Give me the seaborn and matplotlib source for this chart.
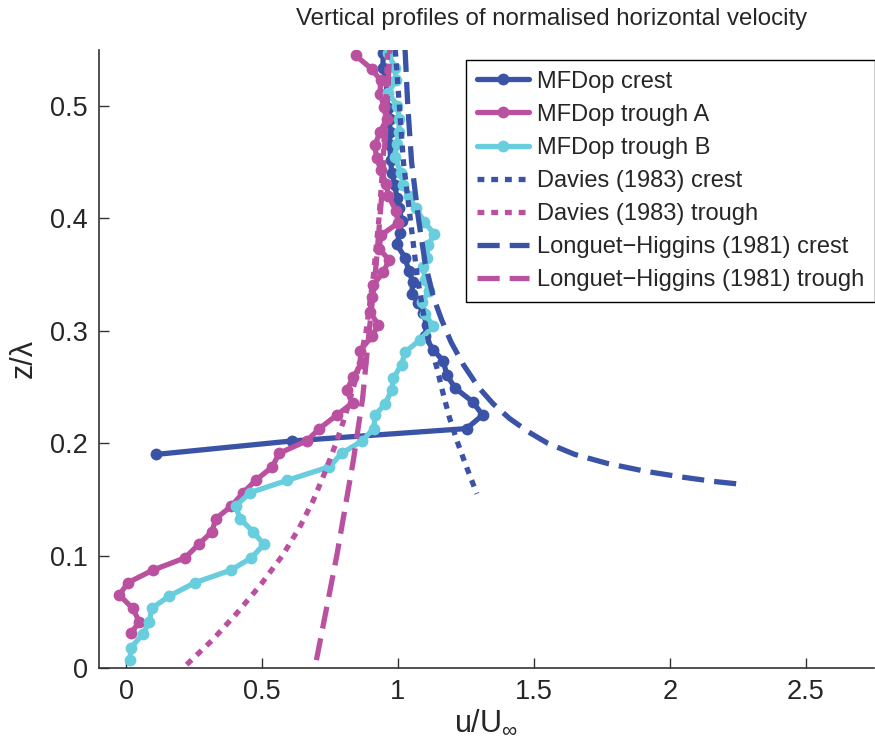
import matplotlib
matplotlib.use("Agg")
import matplotlib.pyplot as plt
import seaborn as sns
import pandas as pd

# ---- data ----
crest_z = [0.190, 0.202, 0.213, 0.225, 0.237, 0.249, 0.261, 0.273, 0.283, 0.295, 0.305,
           0.316, 0.325, 0.333, 0.343, 0.353, 0.365, 0.377, 0.387, 0.398, 0.409, 0.418,
           0.430, 0.440, 0.452, 0.465, 0.477, 0.488, 0.498, 0.510, 0.522, 0.534, 0.547]
crest_u = [0.11, 0.61, 1.252, 1.311, 1.274, 1.21, 1.179, 1.167, 1.13, 1.099, 1.105,
           1.093, 1.074, 1.05, 1.055, 1.04, 1.026, 0.995, 1.007, 1.013, 1.005, 0.995,
           0.989, 0.977, 0.973, 0.97, 0.97, 0.97, 0.964, 0.958, 0.958, 0.944, 0.946]

troughA_z = [0.031, 0.041, 0.053, 0.065, 0.076, 0.087, 0.098, 0.110, 0.121, 0.133, 0.144,
             0.156, 0.167, 0.179, 0.191, 0.202, 0.213, 0.225, 0.236, 0.247, 0.259, 0.271,
             0.282, 0.295, 0.305, 0.317, 0.330, 0.341, 0.352, 0.363, 0.373, 0.385, 0.396,
             0.407, 0.420, 0.431, 0.443, 0.454, 0.465, 0.477, 0.488, 0.499, 0.511, 0.523,
             0.533, 0.545]
troughA_u = [0.018, 0.049, 0.025, -0.025, 0.008, 0.098, 0.217, 0.267, 0.315, 0.331, 0.387,
             0.431, 0.477, 0.538, 0.5625, 0.664, 0.711, 0.775, 0.833, 0.811, 0.836, 0.866,
             0.860, 0.903, 0.928, 0.897, 0.903, 0.909, 0.946, 0.967, 0.931, 0.937, 1.001,
             0.992, 0.965, 0.956, 0.937, 0.921, 0.915, 0.934, 0.958, 0.949, 0.934, 0.936,
             0.903, 0.844]

troughB_z = [0.007, 0.018, 0.030, 0.041, 0.053, 0.064, 0.076, 0.087, 0.098, 0.110, 0.121,
             0.133, 0.144, 0.156, 0.167, 0.179, 0.191, 0.202, 0.213, 0.225, 0.235, 0.247,
             0.258, 0.270, 0.281, 0.292, 0.304, 0.315, 0.326, 0.335, 0.345, 0.357, 0.365,
             0.376, 0.386, 0.397, 0.409, 0.420, 0.430, 0.440, 0.455, 0.466, 0.477, 0.488,
             0.500, 0.512, 0.523, 0.534, 0.547]
troughB_u = [0.015, 0.018, 0.061, 0.086, 0.094, 0.159, 0.254, 0.385, 0.461, 0.507, 0.468,
             0.419, 0.403, 0.456, 0.593, 0.748, 0.793, 0.868, 0.910, 0.917, 0.952, 0.977,
             0.983, 1.013, 1.026, 1.081, 1.130, 1.099, 1.087, 1.115, 1.099, 1.093, 1.105,
             1.111, 1.133, 1.097, 1.065, 1.040, 1.019, 1.010, 0.989, 0.995, 1.004, 1.004,
             0.998, 0.964, 0.993, 0.989, 0.964]

davies_crest_z = [0.55, 0.50, 0.45, 0.40, 0.35, 0.32, 0.293, 0.268, 0.245, 0.222, 0.20,
                  0.18, 0.155]
davies_crest_u = [0.99, 1.005, 1.02, 1.045, 1.07, 1.09, 1.11, 1.142, 1.165, 1.19, 1.22,
                  1.25, 1.29]

davies_trough_z = [0.003, 0.025, 0.05, 0.075, 0.10, 0.125, 0.15, 0.175, 0.20, 0.225,
                   0.26, 0.30, 0.35, 0.40, 0.45, 0.50, 0.55]
davies_trough_u = [0.223, 0.318, 0.412, 0.498, 0.575, 0.638, 0.69, 0.733, 0.772, 0.807,
                   0.848, 0.883, 0.91, 0.93, 0.945, 0.955, 0.962]

lh_crest_z = [0.55, 0.50, 0.45, 0.40, 0.36, 0.33, 0.31, 0.29, 0.27, 0.25, 0.235, 0.222,
              0.21, 0.20, 0.19, 0.182, 0.175, 0.17, 0.166, 0.163]
lh_crest_u = [1.026, 1.036, 1.05, 1.075, 1.10, 1.13, 1.16, 1.195, 1.24, 1.295, 1.35, 1.41,
              1.48, 1.55, 1.65, 1.77, 1.91, 2.04, 2.16, 2.28]

lh_trough_z = [0.007, 0.10, 0.185, 0.24, 0.29, 0.36, 0.42, 0.48, 0.55]
lh_trough_u = [0.70, 0.775, 0.836, 0.87, 0.89, 0.92, 0.94, 0.955, 0.97]

labels = ["MFDop crest", "MFDop trough A", "MFDop trough B", "Davies (1983) crest",
          "Davies (1983) trough", "Longuet\u2212Higgins (1981) crest",
          "Longuet\u2212Higgins (1981) trough"]

# ---- style ----
sns.set_style("white")
plt.rcParams['font.family'] = ['Liberation Sans', 'DejaVu Sans']
plt.rcParams['mathtext.fontset'] = 'custom'
plt.rcParams['mathtext.rm'] = 'Liberation Sans'
plt.rcParams['mathtext.it'] = 'Liberation Sans'

BLUE = "#3B53A6"
MAG = "#BA50A0"
CYAN = "#68CDDC"

fig = plt.figure(figsize=(8.75, 7.48), dpi=100)
ax_left = 98.8 / 875
ax_w = 775.2 / 875
ax_bottom = (748 - 668) / 748
ax_h = 618.2 / 748
ax = fig.add_axes([ax_left, ax_bottom, ax_w, ax_h])

LW = 3.8
MS = 8.5

def draw(u, z, color, label, marker=None, ls="-"):
    df = pd.DataFrame({"u": u, "z": z})
    kw = dict(x="u", y="z", data=df, sort=False, estimator=None, color=color,
              linewidth=LW, label=label, ax=ax)
    if marker:
        kw.update(marker=marker, markersize=MS, markeredgewidth=0, markeredgecolor=color)
    sns.lineplot(linestyle=ls, **kw)

draw(crest_u, crest_z, BLUE, labels[0], marker="o")
draw(troughA_u, troughA_z, MAG, labels[1], marker="o")
draw(troughB_u, troughB_z, CYAN, labels[2], marker="o")
dot = (0, (1.3, 1.3))
dash = (0, (4.2, 1.9))
draw(davies_crest_u, davies_crest_z, BLUE, labels[3], ls=dot)
draw(davies_trough_u, davies_trough_z, MAG, labels[4], ls=dot)
draw(lh_crest_u, lh_crest_z, BLUE, labels[5], ls=dash)
draw(lh_trough_u, lh_trough_z, MAG, labels[6], ls=dash)

ax.set_xlim(-0.1, 2.75)
ax.set_ylim(0, 0.55)
ax.set_xticks([0, 0.5, 1, 1.5, 2, 2.5])
ax.set_xticklabels(["0", "0.5", "1", "1.5", "2", "2.5"])
ax.set_yticks([0, 0.1, 0.2, 0.3, 0.4, 0.5])
ax.set_yticklabels(["0", "0.1", "0.2", "0.3", "0.4", "0.5"])
ax.tick_params(direction="in", length=7, width=1, labelsize=19.5, color="#333333",
               bottom=True, left=True, pad=8)
for s in ["top", "right"]:
    ax.spines[s].set_visible(False)
for s in ["left", "bottom"]:
    ax.spines[s].set_color("#333333")
    ax.spines[s].set_linewidth(1.2)

ax.set_xlabel(r"u/U$_{\infty}$", fontsize=22, labelpad=2)
ax.set_ylabel("z/\u03bb", fontsize=22, labelpad=8)
ax.set_title("Vertical profiles of normalised horizontal velocity", fontsize=17.3,
             x=(552 - 98.8) / 775.2, pad=18)

leg = ax.legend(loc="upper left", bbox_to_anchor=(466 / 875, 1 - 60 / 748),
                bbox_transform=fig.transFigure, fontsize=17, frameon=True,
                fancybox=False, edgecolor="black", framealpha=1,
                handlelength=2.2, handletextpad=0.35, labelspacing=0.47,
                borderpad=0.45, borderaxespad=0, numpoints=1)
leg.get_frame().set_linewidth(1.0)

fig.savefig("out.png", dpi=100)
